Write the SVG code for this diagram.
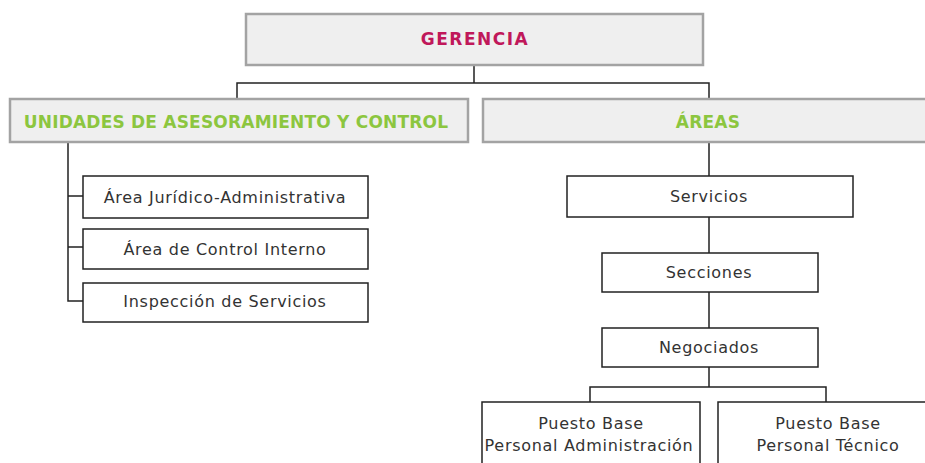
<svg xmlns="http://www.w3.org/2000/svg" width="925" height="463" viewBox="0 0 925 463">
<style>
.hdr{fill:#efefef;stroke:#a3a3a3;stroke-width:2.5}
.box{fill:#fff;stroke:#222;stroke-width:1.5}
.t{font-family:"DejaVu Sans",Verdana,sans-serif;font-size:16px;letter-spacing:0.7px;fill:#333;text-anchor:middle}
.h{font-family:"DejaVu Sans",Verdana,sans-serif;font-size:17px;font-weight:bold;text-anchor:middle;letter-spacing:0.2px}
.c{fill:none;stroke:#222;stroke-width:1.5}
</style>
<rect width="925" height="463" fill="#fff"/>
<g id="connectors">
<path class="c" d="M474 65V83M237 100V83H709V100"/>
<path class="c" d="M68 142V301H83M68 196H83M68 247H83"/>
<path class="c" d="M709 142V176M709 217V253M709 292V328M709 367V387M590 402V387H826V402"/>
</g>
<g id="gerencia"><rect class="hdr" x="246" y="14" width="457" height="51"/><text class="h" x="475" y="45" fill="#c0185a" style="letter-spacing:1.5px">GERENCIA</text></g>
<g id="unidades"><rect class="hdr" x="10" y="99" width="458" height="43"/><text class="h" x="236" y="128" fill="#8cc63f">UNIDADES DE ASESORAMIENTO Y CONTROL</text></g>
<g id="areas"><rect class="hdr" x="483" y="99" width="450" height="43"/><text class="h" x="708" y="128" fill="#8cc63f">ÁREAS</text></g>
<g id="juridico"><rect class="box" x="83" y="176" width="285" height="42"/><text class="t" x="225" y="203">Área Jurídico-Administrativa</text></g>
<g id="control"><rect class="box" x="83" y="229" width="285" height="40"/><text class="t" x="225" y="255">Área de Control Interno</text></g>
<g id="inspeccion"><rect class="box" x="83" y="283" width="285" height="39"/><text class="t" x="225" y="307">Inspección de Servicios</text></g>
<g id="servicios"><rect class="box" x="567" y="176" width="286" height="41"/><text class="t" x="709" y="202">Servicios</text></g>
<g id="secciones"><rect class="box" x="602" y="253" width="216" height="39"/><text class="t" x="709" y="278">Secciones</text></g>
<g id="negociados"><rect class="box" x="602" y="328" width="216" height="39"/><text class="t" x="709" y="353">Negociados</text></g>
<g id="puesto-admin"><rect class="box" x="482" y="402" width="218" height="70"/><text class="t" x="591" y="429">Puesto Base</text><text class="t" x="589" y="451">Personal Administración</text></g>
<g id="puesto-tecnico"><rect class="box" x="718" y="402" width="220" height="70"/><text class="t" x="828" y="429">Puesto Base</text><text class="t" x="828" y="451">Personal Técnico</text></g>
</svg>
